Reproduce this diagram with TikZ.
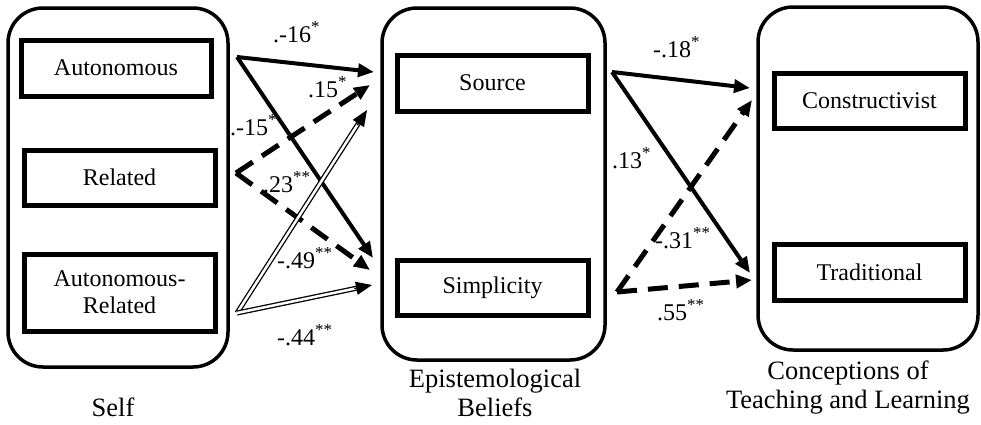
\documentclass[tikz,border=0pt]{standalone}
\usepackage{fontspec}
\setmainfont{Liberation Serif}
\usetikzlibrary{arrows.meta,calc}
\begin{document}
\begin{tikzpicture}[x=1pt,y=-1pt,
  group/.style={draw, line width=3.5pt, rounded corners=35pt, inner sep=0pt},
  item/.style={draw, line width=5pt, inner sep=0pt, align=center,
    font=\fontsize{24}{27}\selectfont},
  lbl/.style={inner sep=0pt, font=\fontsize{24}{27}\selectfont},
  grplbl/.style={inner sep=0pt, align=center, anchor=north,
    font=\fontsize{26.5}{29}\selectfont},
  tip/.style={-{Triangle[length=16pt,width=13pt]}},
  solidarr/.style={tip, line width=4pt},
  dasharr/.style={tip, line width=5pt, dash pattern=on 20pt off 11pt},
  dblline/.style={double, double distance=2.5pt, line width=1.3pt},
  dbltip/.style={tip, line width=1.5pt}
]
\useasboundingbox (0,0) rectangle (981,424);

% groups
\node[group, minimum width=220pt, minimum height=359pt] (self) at (118,187.5) {};
\node[group, minimum width=223pt, minimum height=352pt] (epi) at (493.5,184) {};
\node[group, minimum width=220pt, minimum height=343pt] (conc) at (868,178.5) {};

% items
\node[item, minimum width=190pt, minimum height=56pt] (aut) at (116,68) {Autonomous};
\node[item, minimum width=191pt, minimum height=55pt] (rel) at (119.5,177.5) {Related};
\node[item, minimum width=191pt, minimum height=77pt] (ar) at (119.5,292.5) {Autonomous-\\Related};
\node[item, minimum width=191pt, minimum height=56pt] (src) at (492.5,83) {Source};
\node[item, minimum width=191pt, minimum height=55pt] (simp) at (492.5,287.5) {Simplicity};
\node[item, minimum width=191pt, minimum height=55pt] (cons) at (869.5,100.5) {Constructivist};
\node[item, minimum width=191pt, minimum height=56pt] (trad) at (869.5,272) {Traditional};

% group labels
\node[grplbl] (selfl) at (113,398) {Self};
\node[grplbl] (epil) at (495,369) {Epistemological\\Beliefs};
\node[grplbl] (concl) at (848,361) {Conceptions of\\Teaching and Learning};

% connector end points
\coordinate (a1) at (237,57);
\coordinate (a2) at (236,173);
\coordinate (a3) at (237,313);
\coordinate (b1) at (612,72);
\coordinate (b2) at (617,292);
\coordinate (t11) at (374,72);
\coordinate (t12) at (373,258);
\coordinate (t21) at (370,85);
\coordinate (t22) at (370,270);
\coordinate (t31) at (367,110);
\coordinate (t32) at (372,285);
\coordinate (u11) at (750,88);
\coordinate (u12) at (750,273);
\coordinate (u21) at (752,100);
\coordinate (u22) at (752,280);

% Self -> Epistemological beliefs
\draw[solidarr] (a1) -- (t11);
\draw[solidarr] (a1) -- (t12);
\draw[dasharr] (a2) -- (t21);
\draw[dasharr] (a2) -- (t22);
\draw[dblline, shorten >=14pt] (a3) -- (t31);
\draw[dbltip] ($(t31)!18pt!(a3)$) -- (t31);
\draw[dblline, shorten >=14pt] (a3) -- (t32);
\draw[dbltip] ($(t32)!18pt!(a3)$) -- (t32);

% Epistemological beliefs -> Conceptions
\draw[solidarr] (b1) -- (u11);
\draw[solidarr] (b1) -- (u12);
\draw[dasharr] (b2) -- (u21);
\draw[dasharr] (b2) -- (u22);

% labels
\node[lbl, anchor=base west] (l1) at (273,42) {.-16\textsuperscript{*}};
\node[lbl, anchor=base west] (l2) at (308,97) {.15\textsuperscript{*}};
\node[lbl, anchor=base west] (l3) at (230,135) {.-15\textsuperscript{*}};
\node[lbl, anchor=base west] (l4) at (263,192) {.23\textsuperscript{**}};
\node[lbl, anchor=base west] (l5) at (277,268) {-.49\textsuperscript{**}};
\node[lbl, anchor=base west] (l6) at (277,345) {-.44\textsuperscript{**}};
\node[lbl, anchor=base west] (l7) at (653,57) {-.18\textsuperscript{*}};
\node[lbl, anchor=base west] (l8) at (612,168) {.13\textsuperscript{*}};
\node[lbl, anchor=base west] (l9) at (655,248) {-.31\textsuperscript{**}};
\node[lbl, anchor=base west] (l10) at (657,320) {.55\textsuperscript{**}};
\end{tikzpicture}
\end{document}
